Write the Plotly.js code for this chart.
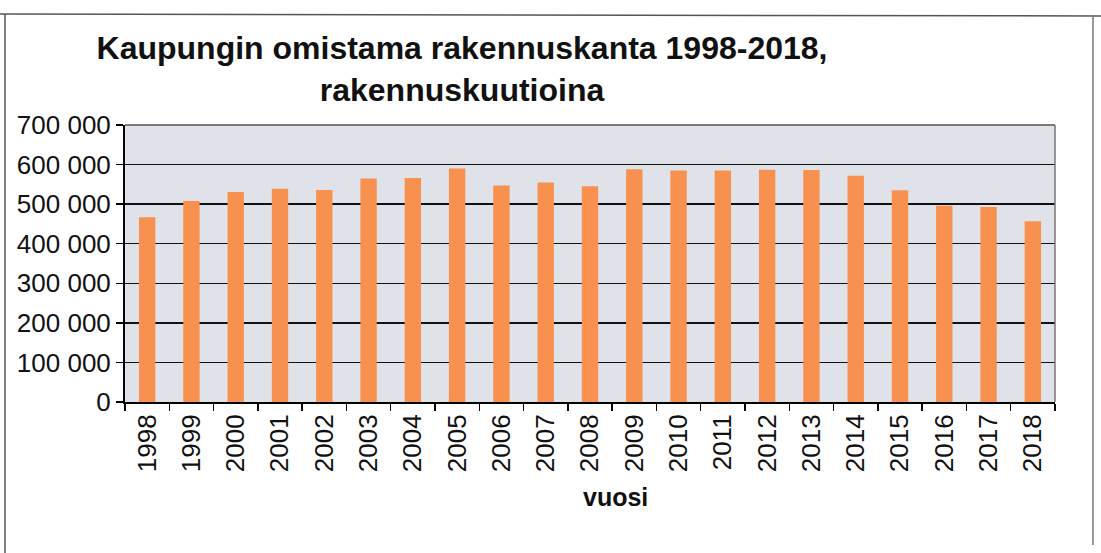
<!DOCTYPE html>
<html>
<head>
<meta charset="utf-8">
<script src="https://cdn.plot.ly/plotly-3.0.1.min.js"></script>
<style>html,body{margin:0;padding:0;background:#fff;}#chart{width:1101px;height:553px;}</style>
</head>
<body>
<div id="chart"></div>
<script>
const years = ["1998","1999","2000","2001","2002","2003","2004","2005","2006","2007","2008","2009","2010","2011","2012","2013","2014","2015","2016","2017","2018"];
const volumes = [467000,508000,531000,539000,536000,565000,566000,590000,547000,555000,545000,588000,585000,585000,587000,586000,572000,535000,496000,493000,457000];
const titleText = "Kaupungin omistama rakennuskanta 1998-2018,<br>rakennuskuutioina";
const xTitle = "vuosi";

const L = 125, R = 1055, T = 125, B = 402;
const px = v => (v - L) / (R - L);
const py = v => (B - v) / (B - T);

Plotly.newPlot('chart', [{
  type: 'bar',
  x: years,
  y: volumes,
  marker: {color: '#f8914f'},
  width: 0.37,
  hoverinfo: 'x+y'
}], {
  width: 1101, height: 553,
  margin: {l: L, r: 1101 - R, t: T, b: 553 - B, pad: 0},
  paper_bgcolor: '#ffffff',
  plot_bgcolor: '#dfe2e8',
  separators: ', ',
  font: {family: 'Liberation Sans, Arial, sans-serif', color: '#111'},
  title: {
    text: titleText,
    font: {size: 32, family: 'Liberation Sans, Arial, sans-serif', weight: 'bold', color: '#111'},
    xref: 'container', x: 462 / 1101, xanchor: 'center',
    yref: 'container', y: 1 - 59 / 553, yanchor: 'middle'
  },
  xaxis: {
    type: 'category',
    tickangle: -90,
    tickfont: {size: 26},
    ticks: 'outside', tickson: 'boundaries', ticklen: 7, tickcolor: '#000', tickwidth: 1.5,
    showline: true, linecolor: '#000', linewidth: 2, mirror: false,
    showgrid: false
  },
  yaxis: {
    range: [0, 700000], dtick: 100000, tickformat: ',d',
    tickfont: {size: 26},
    ticks: 'outside', ticklen: 7, tickcolor: '#000', tickwidth: 1.5,
    showline: true, linecolor: '#000', linewidth: 2,
    showgrid: true, gridcolor: '#111', gridwidth: 1.5,
    zeroline: false
  },
  annotations: [{
    text: xTitle, showarrow: false,
    xref: 'paper', yref: 'paper', x: px(615), y: py(497),
    xanchor: 'center', yanchor: 'middle',
    font: {size: 25, weight: 'bold', color: '#111'}
  }],
  shapes: [
    {type: 'line', xref: 'paper', yref: 'paper', x0: 0, x1: 1, y0: 1, y1: 1, line: {color: '#555', width: 1.5}},
    {type: 'line', xref: 'paper', yref: 'paper', x0: 1, x1: 1, y0: 0, y1: 1, line: {color: '#777', width: 1.5}},
    {type: 'line', xref: 'paper', yref: 'paper', x0: px(0), x1: px(1101), y0: py(14), y1: py(16), line: {color: '#555', width: 1.5}},
    {type: 'line', xref: 'paper', yref: 'paper', x0: px(5), x1: px(5), y0: py(14), y1: py(553), line: {color: '#555', width: 1.5}},
    {type: 'line', xref: 'paper', yref: 'paper', x0: px(1093), x1: px(1093), y0: py(16), y1: py(545), line: {color: '#777', width: 1.5}}
  ],
  showlegend: false
}, {displayModeBar: false, staticPlot: true});
</script>
</body>
</html>
